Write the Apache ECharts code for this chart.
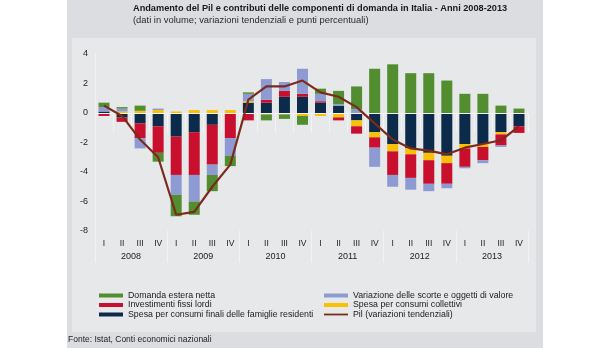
<!DOCTYPE html>
<html>
<head>
<meta charset="utf-8">
<script src="https://cdn.jsdelivr.net/npm/echarts@6/dist/echarts.min.js"></script>
<style>html,body{margin:0;padding:0;background:#fff}#c{width:600px;height:348px}</style>
</head>
<body>
<div id="c"></div>
<script>
const quarters = ['I','II','III','IV','I','II','III','IV','I','II','III','IV','I','II','III','IV','I','II','III','IV','I','II','III','IV'];
const years = ['2008','2009','2010','2011','2012','2013'];
const famiglie = [0.1,-0.3,-0.7,-0.9,-1.6,-1.3,-0.8,0,0.7,0.7,1.1,1.1,0.7,0.5,-0.5,-1.3,-2.1,-2.4,-2.7,-2.9,-2.1,-2.1,-1.3,-0.9];
const collettivi = [0,0.1,0.15,0.2,0.1,0.2,0.2,0.2,0.1,-0.1,-0.1,-0.2,-0.2,-0.3,-0.4,-0.35,-0.5,-0.4,-0.5,-0.5,-0.3,-0.2,-0.15,0];
const investimenti = [-0.2,-0.3,-1.0,-1.8,-2.6,-2.9,-2.7,-1.7,-0.5,0.2,0.4,0.2,0.1,-0.2,-0.5,-0.7,-1.6,-1.6,-1.6,-1.4,-1.25,-0.9,-0.75,-0.45];
const scorte = [0.3,0.2,-0.7,0.1,-1.35,-1.8,-0.7,-1.2,0.5,1.4,0.6,1.7,0.5,0.1,0.25,-1.3,-0.8,-0.8,-0.5,-0.3,-0.1,-0.2,-0.1,0];
const estera = [0.3,0.1,0.35,-0.6,-1.45,-0.9,-1.1,-0.7,0.1,-0.4,-0.3,-0.6,0.35,0.9,1.55,3.0,3.3,2.7,2.7,2.2,1.3,1.3,0.5,0.3];
const pil = [0.5,-0.2,-1.8,-3.0,-6.9,-6.7,-5.0,-3.5,0.9,1.8,1.8,2.2,1.4,1.1,0.4,-0.7,-1.8,-2.4,-2.55,-2.8,-2.35,-2.1,-1.85,-0.9];

const names = {
  est: 'Domanda estera netta',
  inv: 'Investimenti fissi lordi',
  fam: 'Spesa per consumi finali delle famiglie residenti',
  sco: 'Variazione delle scorte e oggetti di valore',
  col: 'Spesa per consumi collettivi',
  pil: 'Pil (variazioni tendenziali)'
};
const colors = {est:'#528d2f', inv:'#c8102e', fam:'#0c2b4b', sco:'#8e9bd2', col:'#f8c106', pil:'#7b2a1b'};
const FONT = 'Liberation Sans';
const sepColor = '#f3f3f4';

function bar(key, data) {
  return {
    name: names[key], type: 'bar', stack: 'tot', data: data,
    barWidth: 11, itemStyle: {color: colors[key]},
    xAxisIndex: 0, yAxisIndex: 0
  };
}

const legendText = {fontFamily: FONT, fontSize: 8.8, lineHeight: 9, color: '#1a1a1a'};

const chart = echarts.init(document.getElementById('c'), null, {renderer: 'canvas'});
chart.setOption({
  animation: false,
  backgroundColor: '#ffffff',
  textStyle: {fontFamily: FONT},
  graphic: [
    {type: 'rect', z: -10, silent: true, shape: {x: 67, y: 0, width: 476, height: 348}, style: {fill: '#dcdde0'}},
    {type: 'rect', z: -9, silent: true, shape: {x: 72, y: 38, width: 464, height: 294}, style: {fill: '#e7e8ea'}}
  ],
  title: [
    {
      text: 'Andamento del Pil e contributi delle componenti di domanda in Italia - Anni 2008-2013',
      subtext: '(dati in volume; variazioni tendenziali e punti percentuali)',
      left: 133, top: 4, padding: 0, itemGap: 3,
      textStyle: {fontFamily: FONT, fontSize: 9.2, fontWeight: 'bold', color: '#1a1a1a'},
      subtextStyle: {fontFamily: FONT, fontSize: 9.4, color: '#2a2a2a'}
    },
    {
      text: 'Fonte: Istat, Conti economici nazionali',
      left: 68, top: 335, padding: 0,
      textStyle: {fontFamily: FONT, fontSize: 8.5, fontWeight: 'normal', color: '#222'}
    }
  ],
  legend: [
    {
      orient: 'vertical', left: 99, top: 291, padding: 0, itemGap: 0.5,
      itemWidth: 24, itemHeight: 4, selectedMode: false,
      textStyle: legendText,
      data: [{name: names.est, icon: 'rect'}, {name: names.inv, icon: 'rect'}, {name: names.fam, icon: 'rect'}]
    },
    {
      orient: 'vertical', left: 324, top: 291, padding: 0, itemGap: 0.5,
      itemWidth: 24, itemHeight: 4, selectedMode: false,
      textStyle: legendText,
      data: [{name: names.sco, icon: 'rect'}, {name: names.col, icon: 'rect'},
             {name: names.pil, icon: 'path://M0,0M0,1.1H24V2.9H0ZM24,4', itemStyle: {color: colors.pil, borderWidth: 0}}]
    }
  ],
  grid: {left: 95, right: 72, top: 54, bottom: 117, containLabel: false},
  xAxis: [
    {
      type: 'category', data: quarters, position: 'bottom', boundaryGap: true,
      axisLine: {show: false},
      axisTick: {show: true, interval: 0, length: 19, lineStyle: {color: sepColor, width: 1}},
      axisLabel: {interval: 0, margin: 8, fontFamily: FONT, fontSize: 8.5, color: '#222'},
      splitLine: {show: false}
    },
    {
      type: 'category', data: years, position: 'bottom', boundaryGap: true,
      axisLine: {show: false},
      axisTick: {show: true, interval: 0, length: 32, lineStyle: {color: sepColor, width: 1}},
      axisLabel: {interval: 0, margin: 21, fontFamily: FONT, fontSize: 9, color: '#222'},
      splitLine: {show: false}
    }
  ],
  yAxis: {
    type: 'value', min: -8, max: 4, interval: 2,
    axisLine: {show: true, lineStyle: {color: sepColor, width: 1}},
    axisTick: {show: false},
    splitLine: {show: false},
    axisLabel: {margin: 7, fontFamily: FONT, fontSize: 9, color: '#222'}
  },
  series: [
    Object.assign(bar('fam', famiglie), {
      markLine: {
        silent: true, symbol: 'none', label: {show: false},
        lineStyle: {color: sepColor, width: 1, type: 'solid'},
        data: [{yAxis: 0}]
      }
    }),
    bar('col', collettivi),
    bar('inv', investimenti),
    bar('sco', scorte),
    bar('est', estera),
    {
      name: names.pil, type: 'line', data: pil, symbol: 'none', z: 5,
      lineStyle: {color: colors.pil, width: 2.2}, itemStyle: {color: colors.pil},
      xAxisIndex: 0, yAxisIndex: 0
    }
  ]
});
</script>
</body>
</html>
